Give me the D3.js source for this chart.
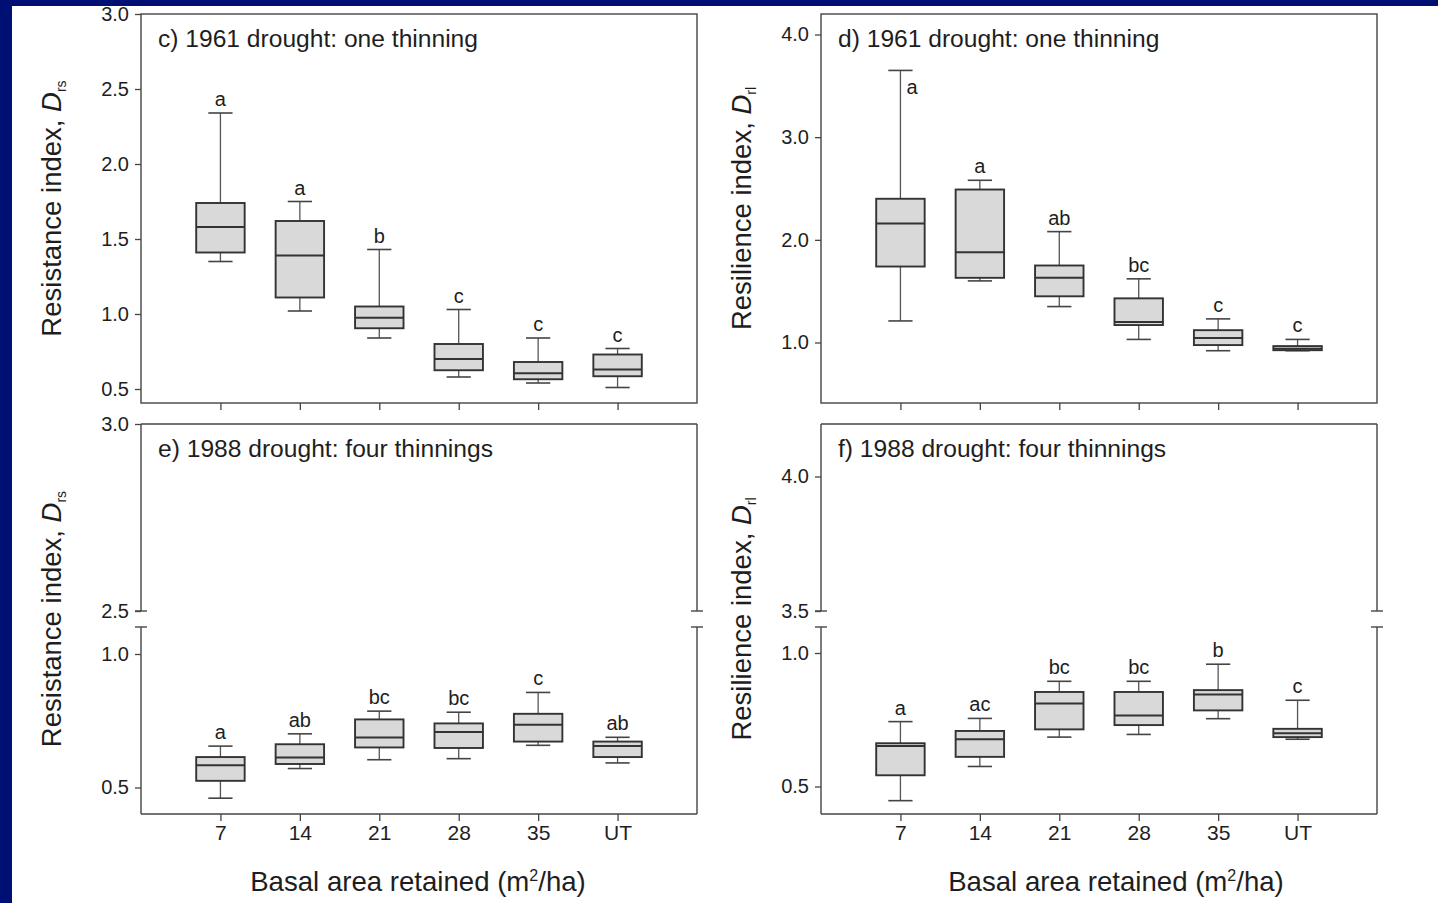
<!DOCTYPE html>
<html>
<head>
<meta charset="utf-8">
<script src="https://cdn.jsdelivr.net/npm/d3@7"></script>
<style>
  body { margin: 0; background: #000f74; overflow: hidden; }
  text { font-family: "Liberation Sans", Arial, Helvetica, sans-serif; fill: #1e1e1e; }
</style>
</head>
<body>
<div id="my_dataviz"></div>
<script>
// x categories (basal area retained)
var categories = ["7", "14", "21", "28", "35", "UT"];

// box stats per category: [lower whisker, q1, median, q3, upper whisker]
var resist1961 = [
  [1.35, 1.41, 1.58, 1.74, 2.34],
  [1.02, 1.11, 1.39, 1.62, 1.75],
  [0.84, 0.905, 0.975, 1.05, 1.43],
  [0.58, 0.625, 0.70, 0.80, 1.03],
  [0.54, 0.565, 0.605, 0.68, 0.84],
  [0.51, 0.585, 0.63, 0.73, 0.77]
];
var resil1961 = [
  [1.21, 1.74, 2.16, 2.40, 3.65],
  [1.60, 1.63, 1.88, 2.49, 2.58],
  [1.35, 1.45, 1.63, 1.75, 2.08],
  [1.03, 1.17, 1.20, 1.43, 1.62],
  [0.92, 0.975, 1.045, 1.12, 1.23],
  [0.92, 0.925, 0.94, 0.965, 1.03]
];
var resist1988 = [
  [0.46, 0.525, 0.583, 0.614, 0.655],
  [0.571, 0.588, 0.612, 0.662, 0.701],
  [0.604, 0.65, 0.687, 0.755, 0.786],
  [0.608, 0.648, 0.708, 0.74, 0.782],
  [0.658, 0.672, 0.735, 0.776, 0.856],
  [0.592, 0.614, 0.655, 0.672, 0.688]
];
var resil1988 = [
  [0.447, 0.542, 0.652, 0.662, 0.743],
  [0.575, 0.611, 0.677, 0.708, 0.755],
  [0.685, 0.714, 0.811, 0.854, 0.894],
  [0.695, 0.730, 0.766, 0.854, 0.894],
  [0.754, 0.785, 0.845, 0.861, 0.958],
  [0.677, 0.685, 0.699, 0.716, 0.823]
];

// significance letters
var letters_c = ["a", "a", "b", "c", "c", "c"];
var letters_d = ["a", "a", "ab", "bc", "c", "c"];
var letters_e = ["a", "ab", "bc", "bc", "c", "ab"];
var letters_f = ["a", "ac", "bc", "bc", "b", "c"];

// tick values
var ticks_c = [0.5, 1.0, 1.5, 2.0, 2.5, 3.0];
var ticks_d = [1.0, 2.0, 3.0, 4.0];
var ticksUpper_e = [2.5, 3.0];
var ticksUpper_f = [3.5, 4.0];
var ticksLower = [0.5, 1.0];

var W = 1438, H = 903;

var svg = d3.select("#my_dataviz")
  .append("svg")
    .attr("width", W)
    .attr("height", H);

svg.append("rect").attr("width", W).attr("height", H).attr("fill", "#000f74");
svg.append("rect").attr("x", 12).attr("y", 6).attr("width", W - 12).attr("height", H - 6).attr("fill", "#ffffff");

var panels = [
  { title: "c) 1961 drought: one thinning", data: resist1961, letters: letters_c,
    left: 141, right: 697, top: 14, bottom: 403,
    y: d3.scaleLinear().domain([0.5, 3.0]).range([389, 14]), ticks: ticks_c,
    ylab: "Resistance index, ", sub: "rs", ylabX: 61, xlabels: false },
  { title: "d) 1961 drought: one thinning", data: resil1961, letters: letters_d,
    left: 821, right: 1377, top: 14, bottom: 403,
    y: d3.scaleLinear().domain([1.0, 4.0]).range([342.5, 34.5]), ticks: ticks_d,
    ylab: "Resilience index, ", sub: "rl", ylabX: 751, xlabels: false },
  { title: "e) 1988 drought: four thinnings", data: resist1988, letters: letters_e,
    left: 141, right: 697, top: 424, bottom: 814,
    y: d3.scaleLinear().domain([0.5, 1.0]).range([787.5, 654]), ticks: ticksLower,
    yUp: d3.scaleLinear().domain([2.5, 3.0]).range([611, 424]), ticksUp: ticksUpper_e,
    brkTop: 611, brkBot: 627,
    ylab: "Resistance index, ", sub: "rs", ylabX: 61, xlabels: true, xtitleX: 418 },
  { title: "f) 1988 drought: four thinnings", data: resil1988, letters: letters_f,
    left: 821, right: 1377, top: 424, bottom: 814,
    y: d3.scaleLinear().domain([0.5, 1.0]).range([786.5, 653]), ticks: ticksLower,
    yUp: d3.scaleLinear().domain([3.5, 4.0]).range([611, 476.5]), ticksUp: ticksUpper_f,
    brkTop: 611, brkBot: 627,
    ylab: "Resilience index, ", sub: "rl", ylabX: 751, xlabels: true, xtitleX: 1116 }
];

var frameColor = "#444";

function styleAxis(sel, size) {
  sel.select(".domain").remove();
  sel.selectAll("line").attr("stroke", frameColor).attr("stroke-width", 1.3);
  sel.selectAll("text")
    .style("font-family", "'Liberation Sans', Arial, sans-serif")
    .style("font-size", size + "px")
    .attr("fill", "#222");
}

function drawPanel(p) {
  var g = svg.append("g");

  var x = d3.scalePoint()
    .domain(categories)
    .range([p.left, p.right])
    .padding(1);
  var boxW = x.step() * 0.61;
  var capW = boxW * 0.5;

  // frame
  if (!p.yUp) {
    g.append("rect")
      .attr("x", p.left).attr("y", p.top)
      .attr("width", p.right - p.left).attr("height", p.bottom - p.top)
      .attr("fill", "none").attr("stroke", frameColor).attr("stroke-width", 1.4);
  } else {
    var fr = g.append("g").attr("stroke", frameColor).attr("stroke-width", 1.4).attr("fill", "none");
    fr.append("line").attr("x1", p.left).attr("x2", p.right).attr("y1", p.top).attr("y2", p.top);
    fr.append("line").attr("x1", p.left).attr("x2", p.right).attr("y1", p.bottom).attr("y2", p.bottom);
    [p.left, p.right].forEach(function(xx) {
      fr.append("line").attr("x1", xx).attr("x2", xx).attr("y1", p.top).attr("y2", p.brkTop);
      fr.append("line").attr("x1", xx).attr("x2", xx).attr("y1", p.brkBot).attr("y2", p.bottom);
      fr.append("line").attr("x1", xx - 6).attr("x2", xx + 6).attr("y1", p.brkTop).attr("y2", p.brkTop);
      fr.append("line").attr("x1", xx - 6).attr("x2", xx + 6).attr("y1", p.brkBot).attr("y2", p.brkBot);
    });
  }

  // y axis (lower / main)
  g.append("g")
    .attr("transform", "translate(" + p.left + ",0)")
    .call(d3.axisLeft(p.y).tickValues(p.ticks).tickFormat(d3.format(".1f")).tickSize(6).tickPadding(6))
    .call(styleAxis, 20);

  if (p.yUp) {
    g.append("g")
      .attr("transform", "translate(" + p.left + ",0)")
      .call(d3.axisLeft(p.yUp).tickValues(p.ticksUp).tickFormat(d3.format(".1f")).tickSize(6).tickPadding(6))
      .call(styleAxis, 20);
  }

  // x axis
  g.append("g")
    .attr("transform", "translate(0," + p.bottom + ")")
    .call(d3.axisBottom(x).tickSize(7).tickPadding(4)
      .tickFormat(function(d) { return p.xlabels ? d : ""; }))
    .call(styleAxis, 21);

  // boxes
  var y = p.y;
  var boxes = g.selectAll(".box")
    .data(p.data)
    .enter()
    .append("g");

  // whiskers
  boxes.append("line")
    .attr("x1", function(d, i) { return x(categories[i]); })
    .attr("x2", function(d, i) { return x(categories[i]); })
    .attr("y1", function(d) { return y(d[0]); })
    .attr("y2", function(d) { return y(d[4]); })
    .attr("stroke", "#555").attr("stroke-width", 1.3);
  [0, 4].forEach(function(k) {
    boxes.append("line")
      .attr("x1", function(d, i) { return x(categories[i]) - capW / 2; })
      .attr("x2", function(d, i) { return x(categories[i]) + capW / 2; })
      .attr("y1", function(d) { return y(d[k]); })
      .attr("y2", function(d) { return y(d[k]); })
      .attr("stroke", "#444").attr("stroke-width", 1.6);
  });

  boxes.append("rect")
    .attr("x", function(d, i) { return x(categories[i]) - boxW / 2; })
    .attr("y", function(d) { return y(d[3]); })
    .attr("width", boxW)
    .attr("height", function(d) { return y(d[1]) - y(d[3]); })
    .attr("fill", "#d9d9d9")
    .attr("stroke", "#333").attr("stroke-width", 1.9);

  boxes.append("line")
    .attr("x1", function(d, i) { return x(categories[i]) - boxW / 2; })
    .attr("x2", function(d, i) { return x(categories[i]) + boxW / 2; })
    .attr("y1", function(d) { return y(d[2]); })
    .attr("y2", function(d) { return y(d[2]); })
    .attr("stroke", "#333").attr("stroke-width", 2);

  // letters above whiskers (moved beside the whisker if it would hit the title)
  function beside(d) { return y(d[4]) - 7 < p.top + 60; }
  boxes.append("text")
    .attr("x", function(d, i) { return x(categories[i]) + (beside(d) ? 6 : 0); })
    .attr("y", function(d) { return beside(d) ? y(d[4]) + 24 : y(d[4]) - 7; })
    .attr("text-anchor", function(d) { return beside(d) ? "start" : "middle"; })
    .style("font-size", "20px")
    .text(function(d, i) { return p.letters[i]; });

  // panel title
  g.append("text")
    .attr("x", p.left + 17)
    .attr("y", p.top + 33)
    .style("font-size", "24.6px")
    .text(p.title);

  // y label
  var cy = (p.top + p.bottom) / 2;
  var yl = g.append("text")
    .attr("transform", "translate(" + p.ylabX + "," + cy + ")rotate(-90)")
    .attr("text-anchor", "middle")
    .style("font-size", "27.5px");
  yl.append("tspan").text(p.ylab);
  yl.append("tspan").style("font-style", "italic").text("D");
  yl.append("tspan").attr("dy", 5).style("font-size", "14px").text(p.sub);

  // x title
  if (p.xlabels) {
    var xt = g.append("text")
      .attr("x", p.xtitleX)
      .attr("y", 891)
      .attr("text-anchor", "middle")
      .style("font-size", "27.6px");
    xt.append("tspan").text("Basal area retained (m");
    xt.append("tspan").attr("dy", -10).style("font-size", "16px").text("2");
    xt.append("tspan").attr("dy", 10).text("/ha)");
  }
}

panels.forEach(drawPanel);
</script>
</body>
</html>
